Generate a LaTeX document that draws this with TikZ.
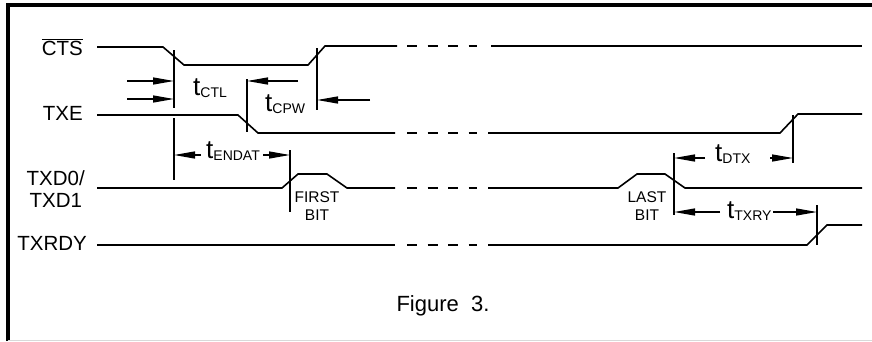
\documentclass[tikz,border=0pt]{standalone}
\usepackage{fontspec}
\setmainfont{Liberation Sans}
\usepackage{tikz}
\usetikzlibrary{arrows.meta, positioning}
\tikzstyle{wave}=[line width=1.6pt, line join=miter]
\tikzstyle{ext}=[line width=1.5pt]
\tikzstyle{dim}=[line width=1.3pt, -{Triangle[length=21pt, width=7pt]}]
\tikzstyle{sig}=[anchor=base east, inner sep=0pt, font=\fontsize{20.5}{22}\selectfont]
\tikzstyle{tlabel}=[anchor=base west, inner sep=0pt]
\tikzstyle{bit}=[inner sep=0pt, align=center, font=\fontsize{15.5}{18}\selectfont]
\newcommand{\tsub}[1]{{\fontsize{26}{28}\selectfont t}\raisebox{-2pt}{\fontsize{14}{16}\selectfont #1}}

\begin{document}
\begin{tikzpicture}[x=1pt, y=-1pt]
  \useasboundingbox (0,0) rectangle (872,341);
  % frame
  \draw[line width=3.5pt] (8,341) -- (8,5) -- (872,5);
  \draw[gray!30, line width=1.5pt] (8,340.5) -- (872,340.5);

  % signal names
  \node[sig] (cts)   at (83,55)  {$\overline{\hbox{CTS}}$};
  \node[sig] (txe)   at (83,120) {TXE};
  \node[sig, anchor=east, align=center] (txd) at (85,189) {TXD0/\\TXD1};
  \node[sig] (txrdy) at (87,250) {TXRDY};

  % waveforms
  \draw[wave] (97,47) -- (163,47) -- (184,65) -- (308,65) -- (325,46) -- (397,46);
  \draw[wave] (491,46) -- (862,46);
  \draw[wave] (97,115) -- (238,115) -- (258,133) -- (395,133);
  \draw[wave] (488,133) -- (780,133) -- (798,114) -- (862,114);
  \draw[wave] (97,188) -- (282,188) -- (298,174) -- (327,174) -- (347,188) -- (395,188);
  \draw[wave] (488,188) -- (618,188) -- (637,174) -- (665,174) -- (685,188) -- (862,188);
  \draw[wave] (97,245) -- (395,245);
  \draw[wave] (488,245) -- (807,245) -- (827,225) -- (862,225);
  \foreach \y in {46,133,188,245}
    \draw[wave, dash pattern=on 10pt off 10.5pt] (407,\y) -- (477,\y);

  % extension lines
  \foreach \n/\x/\a/\b in {e1/174/50/108, e2/247/79/132, e3/317/48/110,
      e4/290/150/212, e5/674/153/215, e6/793/115/163, e7/817/205/245}
    {\coordinate (\n) at (\x,\a); \draw[ext] (\n) -- (\x,\b);}
  \draw[ext] (174,118) -- (174,180);

  % timing arrows
  \draw[dim] (127,81)  -- (e1 |- 0,81);
  \draw[dim] (127,99)  -- (e1 |- 0,99);
  \draw[dim] (298,81)  -- (e2 |- 0,81);
  \draw[dim] (370,100) -- (e3 |- 0,100);
  \draw[dim] (201,155) -- (e1 |- 0,155);
  \draw[dim] (263,155) -- (e4 |- 0,155);
  \draw[dim] (705,158) -- (e5 |- 0,158);
  \draw[dim] (770,158) -- (e6 |- 0,158);
  \draw[dim] (720,212) -- (e5 |- 0,212);
  \draw[dim] (773,212) -- (e7 |- 0,212);

  \node[tlabel] (tctl)   at (193,95)  {\tsub{CTL}};
  \node[tlabel] (tcpw)   at (265,111) {\tsub{CPW}};
  \node[tlabel] (tendat) at (206,158) {\tsub{ENDAT}};
  \node[tlabel] (tdtx)   at (715,161) {\tsub{DTX}};
  \node[tlabel] (ttxry)  at (727,218) {\tsub{TXRY}};

  \node[bit] (first) at (317,206) {FIRST\\BIT};
  \node[bit] (last)  at (647,206) {LAST\\BIT};

  \node[inner sep=0pt, font=\fontsize{22}{24}\selectfont] (fig) at (443,306) {Figure~~3.};
\end{tikzpicture}
\end{document}
